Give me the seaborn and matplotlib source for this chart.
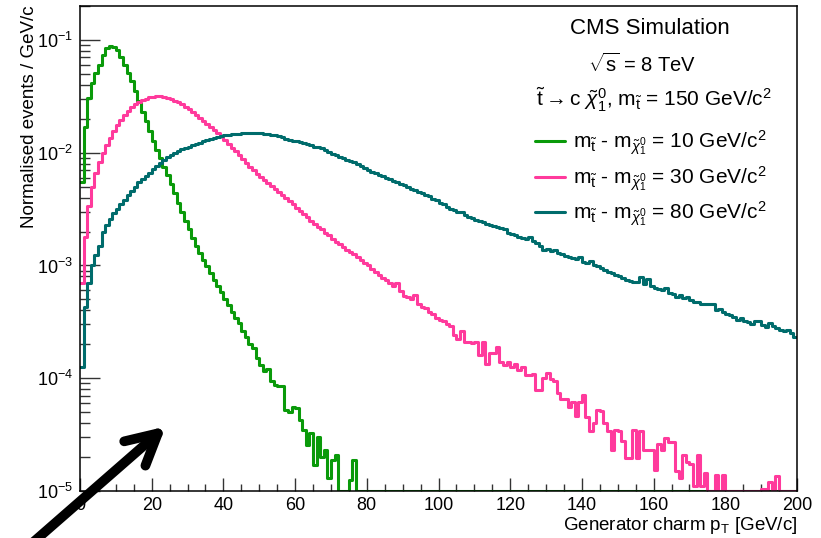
import numpy as np
import pandas as pd
import matplotlib
matplotlib.use("Agg")
import matplotlib.pyplot as plt
from matplotlib.ticker import MultipleLocator, LogLocator, NullFormatter
import seaborn as sns

# Normalised generator-level charm pT spectra, 1 GeV/c bins from 0 to 200 GeV/c
PT_MIN, PT_MAX, N_BINS = 0.0, 200.0, 200
Y_MIN, Y_MAX = 1e-5, 0.2

DM10 = [
    5.5e-3, 1.7e-2, 3.05e-2, 4.15e-2, 5.1e-2, 6.0e-2, 7.4e-2, 8.5e-2, 8.9e-2, 8.7e-2,
    8.1e-2, 7.1e-2, 6.0e-2, 5.1e-2, 4.3e-2, 3.5e-2, 2.85e-2, 2.3e-2, 1.9e-2, 1.55e-2,
    1.26e-2, 1.06e-2, 8.9e-3, 7.5e-3, 6.3e-3, 5.3e-3, 4.4e-3, 3.6e-3, 3.0e-3, 2.5e-3,
    2.1e-3, 1.75e-3, 1.5e-3, 1.28e-3, 1.12e-3, 9.8e-4, 8.5e-4, 7.4e-4, 6.6e-4, 5.8e-4,
    5.0e-4, 4.5e-4, 3.9e-4, 3.4e-4, 3.1e-4, 2.6e-4, 2.3e-4, 2.0e-4, 1.85e-4, 1.5e-4,
    1.3e-4, 1.15e-4, 1.2e-4, 9.5e-5, 8.7e-5, 8.5e-5, 8.6e-5, 5.2e-5, 5.0e-5, 5.6e-5,
    5.5e-5, 4.3e-5, 3.5e-5, 2.55e-5, 3.3e-5, 1.7e-5, 3.0e-5, 2.0e-5, 2.3e-5, 1.3e-5,
    1.9e-5, 2.1e-5, 0, 0, 0, 1.25e-5, 1.9e-5, 0, 0, 0,
    0, 0, 0, 0, 0, 0, 0, 0, 0, 0,
    0, 0, 0, 0, 0, 0, 0, 0, 0, 0,
    0, 0, 0, 0, 0, 0, 0, 0, 0, 0,
    0, 0, 0, 0, 0, 0, 0, 0, 0, 0,
    0, 0, 0, 0, 0, 0, 0, 0, 0, 0,
    0, 0, 0, 0, 0, 0, 0, 0, 0, 0,
    0, 0, 0, 0, 0, 0, 0, 0, 0, 0,
    0, 0, 0, 0, 0, 0, 0, 0, 0, 0,
    0, 0, 0, 0, 0, 0, 0, 0, 0, 0,
    0, 0, 0, 0, 0, 0, 0, 0, 0, 0,
    0, 0, 0, 0, 0, 0, 0, 0, 0, 0,
    0, 0, 0, 0, 0, 0, 0, 0, 0, 0,
]

DM30 = [
    7.0e-4, 1.8e-3, 3.4e-3, 5.0e-3, 6.6e-3, 8.3e-3, 1.0e-2, 1.18e-2, 1.35e-2, 1.55e-2,
    1.75e-2, 1.95e-2, 2.15e-2, 2.35e-2, 2.52e-2, 2.68e-2, 2.82e-2, 2.93e-2, 3.02e-2, 3.1e-2,
    3.15e-2, 3.18e-2, 3.18e-2, 3.14e-2, 3.08e-2, 3.0e-2, 2.9e-2, 2.8e-2, 2.68e-2, 2.55e-2,
    2.42e-2, 2.3e-2, 2.17e-2, 2.05e-2, 1.92e-2, 1.8e-2, 1.7e-2, 1.6e-2, 1.49e-2, 1.4e-2,
    1.3e-2, 1.2e-2, 1.11e-2, 1.03e-2, 9.5e-3, 8.8e-3, 8.1e-3, 7.5e-3, 7.0e-3, 6.5e-3,
    6.1e-3, 5.7e-3, 5.4e-3, 5.1e-3, 4.8e-3, 4.5e-3, 4.2e-3, 4.0e-3, 3.7e-3, 3.5e-3,
    3.25e-3, 3.05e-3, 2.85e-3, 2.7e-3, 2.5e-3, 2.35e-3, 2.2e-3, 2.1e-3, 1.95e-3, 1.85e-3,
    1.72e-3, 1.62e-3, 1.55e-3, 1.45e-3, 1.38e-3, 1.32e-3, 1.26e-3, 1.18e-3, 1.12e-3, 1.05e-3,
    1.0e-3, 9.4e-4, 8.8e-4, 8.2e-4, 7.8e-4, 7.5e-4, 7.0e-4, 6.6e-4, 7.0e-4, 5.9e-4,
    5.4e-4, 5.2e-4, 5.0e-4, 5.5e-4, 4.6e-4, 4.3e-4, 4.2e-4, 3.9e-4, 3.7e-4, 3.4e-4,
    3.3e-4, 3.2e-4, 3.0e-4, 2.9e-4, 2.4e-4, 2.25e-4, 2.6e-4, 2.1e-4, 2.1e-4, 2.05e-4,
    2.1e-4, 1.6e-4, 2.1e-4, 1.35e-4, 1.66e-4, 1.66e-4, 1.9e-4, 1.4e-4, 1.3e-4, 1.4e-4,
    1.26e-4, 1.35e-4, 1.19e-4, 1.25e-4, 1.07e-4, 1.07e-4, 1.1e-4, 7.9e-5, 7.9e-5, 1.0e-4,
    1.12e-4, 9.8e-5, 9.5e-5, 7.4e-5, 6.6e-5, 6.6e-5, 5.6e-5, 6.1e-5, 4.6e-5, 6.1e-5,
    7.1e-5, 4.5e-5, 3.4e-5, 4.0e-5, 5.2e-5, 5.1e-5, 4.0e-5, 3.4e-5, 2.3e-5, 3.5e-5,
    3.4e-5, 2.8e-5, 1.95e-5, 1.95e-5, 3.5e-5, 1.95e-5, 3.4e-5, 2.3e-5, 2.3e-5, 2.3e-5,
    1.55e-5, 2.6e-5, 2.3e-5, 2.95e-5, 2.7e-5, 2.7e-5, 1.5e-5, 1.3e-5, 2.1e-5, 1.8e-5,
    1.75e-5, 1.1e-5, 2.1e-5, 1.1e-5, 1.45e-5, 0, 0, 1.4e-5, 0, 1.4e-5,
    0, 0, 0, 0, 0, 0, 0, 0, 0, 0,
    1.05e-5, 1.05e-5, 1.2e-5, 0, 1.35e-5, 0, 0, 0, 0, 0,
]

DM80 = [
    1.26e-4, 4.3e-4, 7.0e-4, 1.0e-3, 1.25e-3, 1.5e-3, 2.0e-3, 2.3e-3, 2.6e-3, 2.9e-3,
    3.2e-3, 3.5e-3, 3.8e-3, 4.2e-3, 4.6e-3, 5.0e-3, 5.5e-3, 5.8e-3, 6.2e-3, 6.6e-3,
    7.1e-3, 7.6e-3, 8.1e-3, 8.6e-3, 9.1e-3, 9.5e-3, 9.9e-3, 1.03e-2, 1.07e-2, 1.1e-2,
    1.13e-2, 1.16e-2, 1.2e-2, 1.23e-2, 1.26e-2, 1.29e-2, 1.32e-2, 1.35e-2, 1.38e-2, 1.41e-2,
    1.43e-2, 1.45e-2, 1.46e-2, 1.47e-2, 1.48e-2, 1.49e-2, 1.5e-2, 1.5e-2, 1.5e-2, 1.49e-2,
    1.49e-2, 1.48e-2, 1.47e-2, 1.45e-2, 1.44e-2, 1.42e-2, 1.38e-2, 1.33e-2, 1.3e-2, 1.28e-2,
    1.26e-2, 1.24e-2, 1.21e-2, 1.19e-2, 1.16e-2, 1.13e-2, 1.12e-2, 1.09e-2, 1.05e-2, 1.02e-2,
    9.8e-3, 9.5e-3, 9.2e-3, 8.9e-3, 8.7e-3, 8.4e-3, 8.2e-3, 7.9e-3, 7.6e-3, 7.3e-3,
    7.0e-3, 6.8e-3, 6.6e-3, 6.4e-3, 6.2e-3, 6.0e-3, 5.8e-3, 5.6e-3, 5.5e-3, 5.3e-3,
    5.2e-3, 5.0e-3, 4.8e-3, 4.7e-3, 4.5e-3, 4.4e-3, 4.2e-3, 4.1e-3, 3.9e-3, 3.8e-3,
    3.6e-3, 3.5e-3, 3.3e-3, 3.2e-3, 3.1e-3, 3.0e-3, 2.95e-3, 2.8e-3, 2.7e-3, 2.65e-3,
    2.55e-3, 2.5e-3, 2.45e-3, 2.35e-3, 2.3e-3, 2.25e-3, 2.2e-3, 2.15e-3, 2.1e-3, 1.95e-3,
    1.9e-3, 1.85e-3, 1.8e-3, 1.75e-3, 1.72e-3, 1.8e-3, 1.65e-3, 1.58e-3, 1.5e-3, 1.38e-3,
    1.4e-3, 1.35e-3, 1.37e-3, 1.3e-3, 1.26e-3, 1.22e-3, 1.2e-3, 1.17e-3, 1.14e-3, 1.18e-3,
    1.08e-3, 1.05e-3, 1.1e-3, 1.0e-3, 9.8e-4, 9.5e-4, 9.1e-4, 8.8e-4, 8.5e-4, 8.2e-4,
    8.0e-4, 7.8e-4, 7.5e-4, 7.3e-4, 7.2e-4, 7.1e-4, 7.9e-4, 6.8e-4, 7.6e-4, 6.6e-4,
    6.3e-4, 6.2e-4, 6.0e-4, 6.3e-4, 5.7e-4, 5.6e-4, 5.3e-4, 5.5e-4, 5.1e-4, 5.2e-4,
    4.9e-4, 4.75e-4, 4.7e-4, 4.6e-4, 4.6e-4, 4.55e-4, 4.6e-4, 4.0e-4, 4.1e-4, 3.9e-4,
    3.75e-4, 3.65e-4, 3.5e-4, 3.3e-4, 3.4e-4, 3.2e-4, 3.15e-4, 3.0e-4, 3.2e-4, 3.2e-4,
    2.95e-4, 2.85e-4, 3.1e-4, 2.9e-4, 2.8e-4, 2.7e-4, 2.6e-4, 2.7e-4, 2.5e-4, 2.3e-4,
]

SERIES_KEYS = ["dm10", "dm30", "dm80"]
SERIES_VALUES = [DM10, DM30, DM80]
SERIES_COLORS = ["#0a9a0a", "#ff3a9c", "#006c6c"]
LEGEND_LABELS = [
    r"m$_{\tilde{\mathrm{t}}}$ - m$_{\tilde{\chi}^{0}_{1}}$ = 10 GeV/c$^{2}$",
    r"m$_{\tilde{\mathrm{t}}}$ - m$_{\tilde{\chi}^{0}_{1}}$ = 30 GeV/c$^{2}$",
    r"m$_{\tilde{\mathrm{t}}}$ - m$_{\tilde{\chi}^{0}_{1}}$ = 80 GeV/c$^{2}$",
]
TITLE_LINES = [
    "CMS Simulation",
    r"$\sqrt{\mathrm{s}}$ = 8 TeV",
    r"$\tilde{\mathrm{t}}\rightarrow$c $\tilde{\chi}^{0}_{1}$, m$_{\tilde{\mathrm{t}}}$ = 150 GeV/c$^{2}$",
]
X_LABEL = r"Generator charm p$_{\mathrm{T}}$ [GeV/c]"
Y_LABEL = "Normalised events / GeV/c"

# ---------------------------------------------------------------- style
sns.set_theme(style="white")
plt.rcParams["font.family"] = ["Liberation Sans", "DejaVu Sans"]
plt.rcParams["mathtext.fontset"] = "custom"
plt.rcParams["mathtext.rm"] = "Liberation Sans"
plt.rcParams["mathtext.it"] = "Liberation Sans:italic"
plt.rcParams["mathtext.bf"] = "Liberation Sans:bold"
plt.rcParams["mathtext.sf"] = "Liberation Sans"
plt.rcParams["text.color"] = "black"

W, H = 821, 538
fig = plt.figure(figsize=(W / 100, H / 100), dpi=100)
ax = fig.add_axes([80 / W, 1 - 491 / H, (797 - 80) / W, (491 - 6) / H])


def fpos(px, py):
    return px / W, 1 - py / H


# ---------------------------------------------------------------- histograms
edges = np.linspace(PT_MIN, PT_MAX, N_BINS + 1)
frames = []
for key, vals in zip(SERIES_KEYS, SERIES_VALUES):
    v = np.asarray(vals, dtype=float)
    v = np.where(v > 0, v, Y_MIN)          # empty bins drawn on the axis floor
    v = np.append(v, v[-1])                # closing edge for the step outline
    frames.append(pd.DataFrame({"pt": edges, "value": v, "sample": key}))
df = pd.concat(frames, ignore_index=True)

sns.lineplot(
    data=df, x="pt", y="value", hue="sample", hue_order=SERIES_KEYS,
    palette=dict(zip(SERIES_KEYS, SERIES_COLORS)), estimator=None,
    drawstyle="steps-post", linewidth=2.2, legend=False, ax=ax,
)

ax.set_yscale("log")
ax.set_xlim(PT_MIN, PT_MAX)
ax.set_ylim(Y_MIN, Y_MAX)
ax.set_xlabel("")
ax.set_ylabel("")

ax.xaxis.set_major_locator(MultipleLocator(20))
ax.xaxis.set_minor_locator(MultipleLocator(5))
ax.yaxis.set_major_locator(LogLocator(base=10, numticks=10))
ax.yaxis.set_minor_locator(LogLocator(base=10, subs=np.arange(2, 10), numticks=20))
ax.yaxis.set_minor_formatter(NullFormatter())

ax.tick_params(axis="both", which="both", direction="in", top=False, right=False,
               left=True, bottom=True, colors="#333333", labelcolor="black",
               labelsize=13)
ax.tick_params(axis="x", which="major", length=9.5, width=1.0, pad=4)
ax.tick_params(axis="x", which="minor", length=5, width=1.0)
ax.tick_params(axis="y", which="major", length=14.5, width=1.0, pad=5)
ax.tick_params(axis="y", which="minor", length=7.5, width=1.0)
for sp in ax.spines.values():
    sp.set_color("black")
    sp.set_linewidth(1.1)

# ---------------------------------------------------------------- labels
fig.text(*fpos(797, 525), X_LABEL, ha="right", va="center", fontsize=13.5)
fig.text(*fpos(29.5, 5), Y_LABEL, ha="center", va="top", rotation=90, fontsize=13.5)

fig.text(*fpos(650, 34), TITLE_LINES[0], ha="center", va="baseline", fontsize=16)
fig.text(*fpos(642, 72), TITLE_LINES[1], ha="center", va="baseline", fontsize=14.5)
fig.text(*fpos(654, 107), TITLE_LINES[2], ha="center", va="baseline", fontsize=15)

ax.legend(
    ax.lines[:3], LEGEND_LABELS, loc="upper left",
    bbox_to_anchor=fpos(535, 129), bbox_transform=fig.transFigure,
    frameon=False, fontsize=15, handlelength=1.45, handletextpad=0.38,
    labelspacing=0.31, borderpad=0, borderaxespad=0,
)

# ---------------------------------------------------------------- arrow
ax.annotate(
    "", xy=(23.9, 3.73e-5), xycoords="data",
    xytext=fpos(30, 545), textcoords="figure fraction",
    arrowprops=dict(arrowstyle="->,head_length=1.1,head_width=0.58", lw=7,
                    color="black", shrinkA=0, shrinkB=0, mutation_scale=20,
                    capstyle="round", joinstyle="round"),
    annotation_clip=False,
)

fig.savefig("out.png", dpi=100)
